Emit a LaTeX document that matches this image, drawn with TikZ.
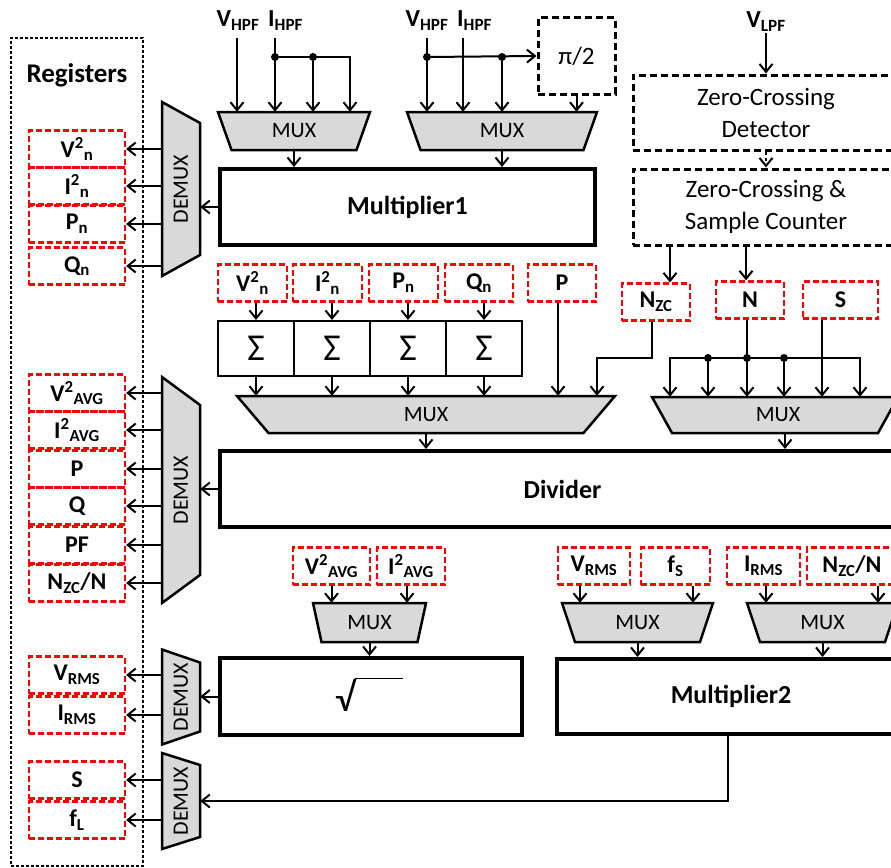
\documentclass[tikz,border=0pt]{standalone}
\usepackage{fontspec}
\setmainfont{Carlito}
\usetikzlibrary{arrows.meta,positioning}
\definecolor{grigiomux}{RGB}{217,217,217}

% trapezio del MUX: centro x, centro y, lato alto, lato basso, altezza
\newcommand{\formamux}[5]{%
  \filldraw[muxbordo] ({#1-#3/2},{#2-#5/2}) -- ({#1+#3/2},{#2-#5/2})
    -- ({#1+#4/2},{#2+#5/2}) -- ({#1-#4/2},{#2+#5/2}) -- cycle;}
% trapezio del DEMUX: centro x, centro y, lato sinistro, lato destro, larghezza
\newcommand{\formademux}[5]{%
  \filldraw[muxbordo] ({#1-#5/2},{#2-#3/2}) -- ({#1+#5/2},{#2-#4/2})
    -- ({#1+#5/2},{#2+#4/2}) -- ({#1-#5/2},{#2+#3/2}) -- cycle;}

\begin{document}
\begin{tikzpicture}[x=1pt,y=-1pt,
    font=\fontsize{23}{31}\selectfont,
    freccia/.style={line width=2pt,-{Straight Barb[length=8pt,width=13pt]}},
    filo/.style={line width=2pt},
    blocco/.style={draw,line width=4pt,inner sep=0pt,
                   font=\fontsize{26}{30}\selectfont\bfseries},
    somma/.style={draw,line width=2pt,minimum width=76,minimum height=55,
                  inner sep=0pt,font=\fontsize{38}{38}\selectfont},
    registro/.style={draw=red,line width=2.2pt,dash pattern=on 6pt off 3pt,
                     inner sep=0pt,minimum height=37,
                     font=\fontsize{24}{28}\selectfont\bfseries},
    tratto/.style={draw,line width=3pt,dash pattern=on 7pt off 4pt,
                   inner sep=0pt,align=center,font=\fontsize{25}{32}\selectfont},
    muxbordo/.style={draw,line width=2.5pt,fill=grigiomux},
    muxtesto/.style={inner sep=0pt,font=\fontsize{22}{22}\selectfont},
    punto/.style={circle,fill,inner sep=0pt,minimum size=8pt},
    ingresso/.style={inner sep=1pt,font=\fontsize{24.5}{28}\selectfont\bfseries}]

  \useasboundingbox (0,0) rectangle (891,867);

  % ---- banco dei registri --------------------------------------------------
  \node[draw,line width=1.5pt,dash pattern=on 3pt off 2pt,inner sep=0pt,
        minimum width=132,minimum height=828] (banco) at (77,452) {};
  \node[font=\fontsize{27}{30}\selectfont\bfseries] (titolo) at (77,75) {Registers};

  \node[registro,minimum width=96] (rV2n) at (77,149) {V\textsuperscript{2}\textsubscript{n}};
  \node[registro,minimum width=96] (rI2n) at (77,186) {I\textsuperscript{2}\textsubscript{n}};
  \node[registro,minimum width=96] (rPn)  at (77,224) {P\textsubscript{n}};
  \node[registro,minimum width=96] (rQn)  at (77,266) {Q\textsubscript{n}};

  \node[registro,minimum width=96] (rV2a) at (77,393) {V\textsuperscript{2}\textsubscript{AVG}};
  \node[registro,minimum width=96] (rI2a) at (77,430) {I\textsuperscript{2}\textsubscript{AVG}};
  \node[registro,minimum width=96] (rP)   at (77,469) {P};
  \node[registro,minimum width=96] (rQ)   at (77,506) {Q};
  \node[registro,minimum width=96] (rPF)  at (77,545) {PF};
  \node[registro,minimum width=96] (rNN)  at (77,583) {N\textsubscript{ZC}/N};

  \node[registro,minimum width=96] (rVr)  at (77,675) {V\textsubscript{RMS}};
  \node[registro,minimum width=96] (rIr)  at (77,715) {I\textsubscript{RMS}};
  \node[registro,minimum width=96] (rS)   at (77,780) {S};
  \node[registro,minimum width=96] (rfL)  at (77,820) {f\textsubscript{L}};

  % ---- demultiplexer -------------------------------------------------------
  \formademux{181}{189}{174}{132}{38}
  \formademux{181}{490}{226}{170}{38}
  \formademux{181}{697}{95}{69}{38}
  \formademux{181}{801}{96}{72}{38}
  \node[muxtesto,rotate=90,minimum width=174,minimum height=38] (dm1) at (181,189) {DEMUX};
  \node[muxtesto,rotate=90,minimum width=226,minimum height=38] (dm2) at (181,490) {DEMUX};
  \node[muxtesto,rotate=90,minimum width=95,minimum height=38]  (dm3) at (181,697) {DEMUX};
  \node[muxtesto,rotate=90,minimum width=96,minimum height=38]  (dm4) at (181,801) {DEMUX};

  \foreach \r in {rV2n,rI2n,rPn,rQn}
    \draw[freccia] (\r -| dm1.north) -- (\r.east);
  \foreach \r in {rV2a,rI2a,rP,rQ,rPF,rNN}
    \draw[freccia] (\r -| dm2.north) -- (\r.east);
  \foreach \r in {rVr,rIr}
    \draw[freccia] (\r -| dm3.north) -- (\r.east);
  \foreach \r in {rS,rfL}
    \draw[freccia] (\r -| dm4.north) -- (\r.east);

  % ---- ingressi e Multiplier1 ----------------------------------------------
  \node[ingresso,anchor=base]      (vh1) at (238,27) {V\textsubscript{HPF}};
  \node[ingresso,anchor=base west] (ih1) at (267,27) {I\textsubscript{HPF}};
  \node[ingresso,anchor=base]      (vh2) at (427,27) {V\textsubscript{HPF}};
  \node[ingresso,anchor=base west] (ih2) at (456,27) {I\textsubscript{HPF}};
  \node[ingresso,anchor=base]      (vl)  at (766,28) {V\textsubscript{LPF}};

  \node[tratto,minimum width=77,minimum height=76] (pi) at (576.5,56) {π/2};

  \formamux{294}{131}{152}{125}{38}
  \formamux{502}{131}{190}{163}{38}
  \node[muxtesto,minimum width=152,minimum height=38] (mux1) at (294,131) {MUX};
  \node[muxtesto,minimum width=190,minimum height=38] (mux2) at (502,131) {MUX};
  \node[blocco,minimum width=375,minimum height=76] (molt1) at (407.5,207) {Multiplier1};

  \coordinate (cv1) at (237,38);
  \coordinate (ci1) at (275,38);
  \coordinate (cv2) at (427,38);
  \coordinate (ci2) at (463,38);
  \coordinate (g1)  at (350,57);
  \node[punto] (p1) at (275,57) {};
  \node[punto] (p2) at (313,57) {};
  \node[punto] (p3) at (427,57) {};
  \node[punto] (p4) at (502,57) {};

  \draw[freccia] (cv1) -- (cv1 |- mux1.north);
  \draw[freccia] (ci1) -- (ci1 |- mux1.north);
  \draw[freccia] (p1) -- (g1) -- (g1 |- mux1.north);
  \draw[freccia] (p2) -- (p2 |- mux1.north);

  \draw[freccia] (cv2) -- (cv2 |- mux2.north);
  \draw[freccia] (ci2) -- (ci2 |- mux2.north);
  \draw[freccia] (p3) -- (pi.west);
  \draw[freccia] (p4) -- (p4 |- mux2.north);
  \draw[freccia] (pi.south) -- (pi.south |- mux2.north);

  \draw[freccia] (mux1.south) -- (mux1.south |- molt1.north);
  \draw[freccia] (mux2.south) -- (mux2.south |- molt1.north);
  \draw[freccia] (molt1.west) -- (molt1.west -| dm1.south);

  % ---- rivelatore di zero e contatore --------------------------------------
  \node[tratto,minimum width=266,minimum height=75] (zcd) at (766,112.5)
       {Zero-Crossing\\Detector};
  \node[tratto,minimum width=266,minimum height=76] (zcc) at (766,207)
       {Zero-Crossing \&\\Sample Counter};
  \draw[freccia] (vl.south) -- (zcd.north);
  \draw[freccia,dash pattern=on 3pt off 3pt] (zcd.south) -- (zcc.north);

  % ---- accumulatori e Divider ----------------------------------------------
  \node[registro,minimum width=69] (aV2n) at (252.5,283) {V\textsuperscript{2}\textsubscript{n}};
  \node[registro,minimum width=69] (aI2n) at (327.5,283) {I\textsuperscript{2}\textsubscript{n}};
  \node[registro,minimum width=69] (aPn)  at (403.5,283) {P\textsubscript{n}};
  \node[registro,minimum width=68] (aQn)  at (479,283)   {Q\textsubscript{n}};
  \node[registro,minimum width=68] (aP)   at (562,283)   {P};
  \node[registro,minimum width=68] (aNzc) at (656,302)   {N\textsubscript{ZC}};
  \node[registro,minimum width=68] (aN)   at (750,300)   {N};
  \node[registro,minimum width=75] (aS)   at (840.5,300) {S};

  \node[somma] (s1) at (256,348.5) {Σ};
  \node[somma] (s2) at (332,348.5) {Σ};
  \node[somma] (s3) at (408,348.5) {Σ};
  \node[somma] (s4) at (484,348.5) {Σ};

  \formamux{426}{414.5}{378}{315}{37}
  \formamux{775}{415}{246}{206}{36}
  \node[muxtesto,minimum width=378,minimum height=37] (mux3) at (426,414.5) {MUX};
  \node[muxtesto,minimum width=246,minimum height=36] (mux4) at (778,415) {MUX};
  \node[blocco,minimum width=685,minimum height=76] (div) at (562.5,489) {Divider};

  \foreach \a/\s in {aV2n/s1,aI2n/s2,aPn/s3,aQn/s4} {
    \draw[freccia] (\s.north |- \a.south) -- (\s.north);
    \draw[freccia] (\s.south) -- (\s.south |- mux3.north);
  }
  \draw[freccia] ([xshift=-4pt]aP.south) -- ([xshift=-4pt]aP.south |- mux3.north);

  \draw[freccia] ([xshift=14pt]aNzc.north |- zcc.south) -- ([xshift=14pt]aNzc.north);
  \draw[freccia] ([xshift=-4pt]aN.north |- zcc.south) -- ([xshift=-4pt]aN.north);

  \coordinate (k1) at (597,358);
  \draw[freccia] ([xshift=-4pt]aNzc.south) |- (k1) -- (k1 |- mux3.north);

  \coordinate (h1) at (670,358);
  \coordinate (h2) at (860,358);
  \node[punto] (q1) at (708,358) {};
  \node[punto] (q2) at (747,358) {};
  \node[punto] (q3) at (784,358) {};
  \draw[filo] (q1) -- (q3);
  \draw[freccia] (q2 |- aN.south) -- (q2 |- mux4.north);
  \draw[freccia] (q1) -- (h1) -- (h1 |- mux4.north);
  \draw[freccia] (q3) -- (h2) -- (h2 |- mux4.north);
  \draw[freccia] (q1) -- (q1 |- mux4.north);
  \draw[freccia] (q3) -- (q3 |- mux4.north);
  \draw[freccia] ([xshift=-18.5pt]aS.south) -- ([xshift=-18.5pt]aS.south |- mux4.north);

  \draw[freccia] (mux3.south) -- (mux3.south |- div.north);
  \draw[freccia] ([xshift=7pt]mux4.south) -- ([xshift=7pt]mux4.south |- div.north);
  \draw[freccia] (div.west) -- (div.west -| dm2.south);

  % ---- radice quadrata e Multiplier2 ---------------------------------------
  \node[registro,minimum width=77] (bV2a) at (331.5,566) {V\textsuperscript{2}\textsubscript{AVG}};
  \node[registro,minimum width=68] (bI2a) at (411,566)   {I\textsuperscript{2}\textsubscript{AVG}};
  \node[registro,minimum width=72] (bVr)  at (594,566)   {V\textsubscript{RMS}};
  \node[registro,minimum width=69] (bfS)  at (675.5,566) {f\textsubscript{S}};
  \node[registro,minimum width=73] (bIr)  at (763.5,566) {I\textsubscript{RMS}};
  \node[registro,minimum width=90] (bNN)  at (852,566)   {N\textsubscript{ZC}/N};

  \formamux{369.5}{622.5}{113}{96}{39}
  \formamux{637.5}{622.5}{151}{125}{39}
  \formamux{822.5}{622.5}{151}{125}{39}
  \node[muxtesto,minimum width=113,minimum height=39] (mux5) at (369.5,622.5) {MUX};
  \node[muxtesto,minimum width=151,minimum height=39] (mux6) at (637.5,622.5) {MUX};
  \node[muxtesto,minimum width=151,minimum height=39] (mux7) at (822.5,622.5) {MUX};

  \node[blocco,minimum width=302,minimum height=77] (rad) at (371,696.5) {};
  \node[inner sep=0pt,font=\fontsize{40}{40}\selectfont] (segno) at (345,695) {√};
  \draw[line width=1.5pt] (segno.north east) -- ++(48,0);
  \node[blocco,minimum width=348,minimum height=75] (molt2) at (731,696.5) {Multiplier2};

  \draw[freccia] (bV2a.south) -- (bV2a.south |- mux5.north);
  \draw[freccia] ([xshift=-4pt]bI2a.south) -- ([xshift=-4pt]bI2a.south |- mux5.north);
  \draw[freccia] ([xshift=-14pt]bVr.south) -- ([xshift=-14pt]bVr.south |- mux6.north);
  \draw[freccia] ([xshift=17.5pt]bfS.south) -- ([xshift=17.5pt]bfS.south |- mux6.north);
  \draw[freccia] ([xshift=2.5pt]bIr.south) -- ([xshift=2.5pt]bIr.south |- mux7.north);
  \draw[freccia] ([xshift=26pt]bNN.south) -- ([xshift=26pt]bNN.south |- mux7.north);

  \draw[freccia] (mux5.south) -- (mux5.south |- rad.north);
  \draw[freccia] (mux6.south) -- (mux6.south |- molt2.north);
  \draw[freccia] (mux7.south) -- (mux7.south |- molt2.north);
  \draw[freccia] (rad.west) -- (rad.west -| dm3.south);
  \draw[freccia] ([xshift=-3pt]molt2.south) |- (dm4.south);

\end{tikzpicture}
\end{document}
